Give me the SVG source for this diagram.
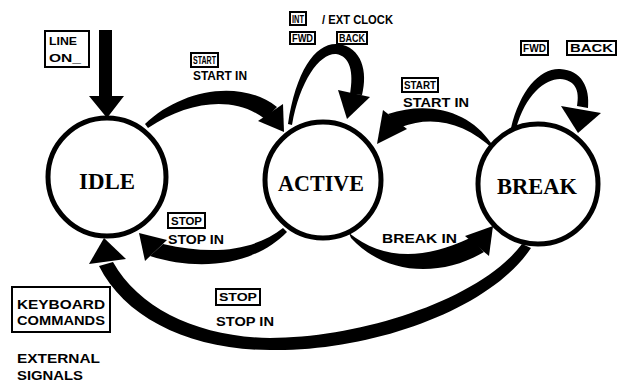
<svg xmlns="http://www.w3.org/2000/svg" width="636" height="388" viewBox="0 0 636 388">
<style>
.node{fill:#fff;stroke:#000;stroke-width:5}
.nt{font-family:"Liberation Serif",serif;font-weight:bold;font-size:24px;fill:#000;text-anchor:middle}
.lb{font-family:"Liberation Sans",sans-serif;font-weight:bold;font-size:12px;fill:#000}
.bx{fill:#fff;stroke:#000;stroke-width:2}
.bt{font-family:"Liberation Sans",sans-serif;font-weight:bold;font-size:11px;fill:#000}
.ar{fill:#000;stroke:none}
</style>
<rect width="636" height="388" fill="#fff"/>
<g id="connectors">
  <!-- LINE ON arrow -->
  <polygon class="ar" points="99,30 112,30 112,96 124,96 107,118 89,96 99,96"/>
  <!-- START: IDLE -> ACTIVE -->
  <path class="ar" d="M145,124 C180,90 240,78 277,107 L265,119 C235,96 190,100 148,128 Z"/>
  <polygon class="ar" points="258,121 284,132 283,104"/>
  <!-- ACTIVE self loop -->
  <path class="ar" d="M288,124 C296,70 316,42 338,44 C362,47 368,72 362,95 L350,94 C354,72 350,56 336,54 C320,53 300,80 292,125 Z"/>
  <polygon class="ar" points="338,90 347,119 370,97"/>
  <!-- START: BREAK -> ACTIVE -->
  <path class="ar" d="M491,143 C470,112 430,100 388,114 L401,127 C432,115 465,122 494,150 Z"/>
  <polygon class="ar" points="383,110 377,144 407,129"/>
  <!-- BREAK self loop -->
  <path class="ar" d="M511,128 C520,90 540,68 560,69 C582,70 590,88 588,108 L577,106 C580,90 575,80 560,79 C545,79 525,95 516,129 Z"/>
  <polygon class="ar" points="561,106 578,133 601,113"/>
  <!-- STOP: ACTIVE -> IDLE -->
  <path class="ar" d="M283,228 C255,250 215,256 163,244 L150,256 C200,272 255,265 287,232 Z"/>
  <polygon class="ar" points="167,240 139,233 145,261"/>
  <!-- BREAK IN: ACTIVE -> BREAK -->
  <path class="ar" d="M349,233 C380,258 420,262 470,238 L484,252 C440,278 385,275 351,238 Z"/>
  <polygon class="ar" points="465,236 493,226 489,256"/>
  <!-- STOP: BREAK -> IDLE -->
  <path class="ar" d="M522,244 C480,300 360,338 270,338 C200,337 140,310 113,262 L99,266 C125,318 190,350 270,350 C370,352 490,310 531,248 Z"/>
  <polygon class="ar" points="89,264 104,238 126,259"/>
</g>
<g id="idle">
  <circle class="node" cx="107" cy="177" r="59"/>
  <text class="nt" x="107" y="189" textLength="56" lengthAdjust="spacingAndGlyphs">IDLE</text>
</g>
<g id="active">
  <circle class="node" cx="323" cy="180" r="58"/>
  <text class="nt" x="321" y="191" textLength="86" lengthAdjust="spacingAndGlyphs">ACTIVE</text>
</g>
<g id="break">
  <circle class="node" cx="538" cy="184" r="60"/>
  <text class="nt" x="537" y="194" textLength="80" lengthAdjust="spacingAndGlyphs">BREAK</text>
</g>
<g id="line-on">
  <rect class="bx" x="45" y="31" width="44" height="36"/>
  <text class="bt" x="49" y="45" textLength="28" lengthAdjust="spacingAndGlyphs">LINE</text>
  <text class="bt" x="49" y="62" textLength="32" lengthAdjust="spacingAndGlyphs">ON_</text>
</g>
<g id="label-start-1">
  <rect class="bx" x="191" y="53" width="27" height="14"/>
  <text class="bt" x="193" y="64" textLength="23" lengthAdjust="spacingAndGlyphs">START</text>
  <text class="lb" x="193" y="80" textLength="54" lengthAdjust="spacingAndGlyphs">START IN</text>
</g>
<g id="label-active-loop">
  <rect class="bx" x="290" y="12" width="16" height="13"/>
  <text class="bt" x="292" y="23" textLength="12" lengthAdjust="spacingAndGlyphs">INT</text>
  <text class="lb" x="322" y="24" textLength="71" lengthAdjust="spacingAndGlyphs">/ EXT CLOCK</text>
  <rect class="bx" x="290" y="32" width="25" height="12"/>
  <text class="bt" x="292" y="42" textLength="21" lengthAdjust="spacingAndGlyphs">FWD</text>
  <rect class="bx" x="337" y="32" width="30" height="12"/>
  <text class="bt" x="339" y="42" textLength="26" lengthAdjust="spacingAndGlyphs">BACK</text>
</g>
<g id="label-start-2">
  <rect class="bx" x="402" y="78" width="36" height="14"/>
  <text class="bt" x="404" y="89" textLength="32" lengthAdjust="spacingAndGlyphs">START</text>
  <text class="lb" x="403" y="107" textLength="66" lengthAdjust="spacingAndGlyphs">START IN</text>
</g>
<g id="label-break-loop">
  <rect class="bx" x="521" y="41" width="27" height="14"/>
  <text class="bt" x="523" y="52" textLength="23" lengthAdjust="spacingAndGlyphs">FWD</text>
  <rect class="bx" x="567" y="41" width="49" height="14"/>
  <text class="bt" x="570" y="52" textLength="43" lengthAdjust="spacingAndGlyphs">BACK</text>
</g>
<g id="label-stop-1">
  <rect class="bx" x="168" y="213" width="37" height="15"/>
  <text class="bt" x="171" y="225" textLength="31" lengthAdjust="spacingAndGlyphs">STOP</text>
  <text class="lb" x="168" y="244" textLength="56" lengthAdjust="spacingAndGlyphs">STOP IN</text>
</g>
<g id="label-break-in">
  <text class="lb" x="382" y="243" textLength="75" lengthAdjust="spacingAndGlyphs">BREAK IN</text>
</g>
<g id="label-stop-2">
  <rect class="bx" x="216" y="289" width="44" height="16"/>
  <text class="bt" x="219" y="301" textLength="38" lengthAdjust="spacingAndGlyphs">STOP</text>
  <text class="lb" x="216" y="326" textLength="58" lengthAdjust="spacingAndGlyphs">STOP IN</text>
</g>
<g id="legend-keyboard">
  <rect class="bx" x="12" y="287" width="98" height="45"/>
  <text class="lb" x="17" y="309" font-size="13" textLength="88" lengthAdjust="spacingAndGlyphs">KEYBOARD</text>
  <text class="lb" x="17" y="325" font-size="13" textLength="88" lengthAdjust="spacingAndGlyphs">COMMANDS</text>
</g>
<g id="legend-external">
  <text class="lb" x="17" y="363" font-size="13" textLength="83" lengthAdjust="spacingAndGlyphs">EXTERNAL</text>
  <text class="lb" x="17" y="380" font-size="13" textLength="66" lengthAdjust="spacingAndGlyphs">SIGNALS</text>
</g>
</svg>
